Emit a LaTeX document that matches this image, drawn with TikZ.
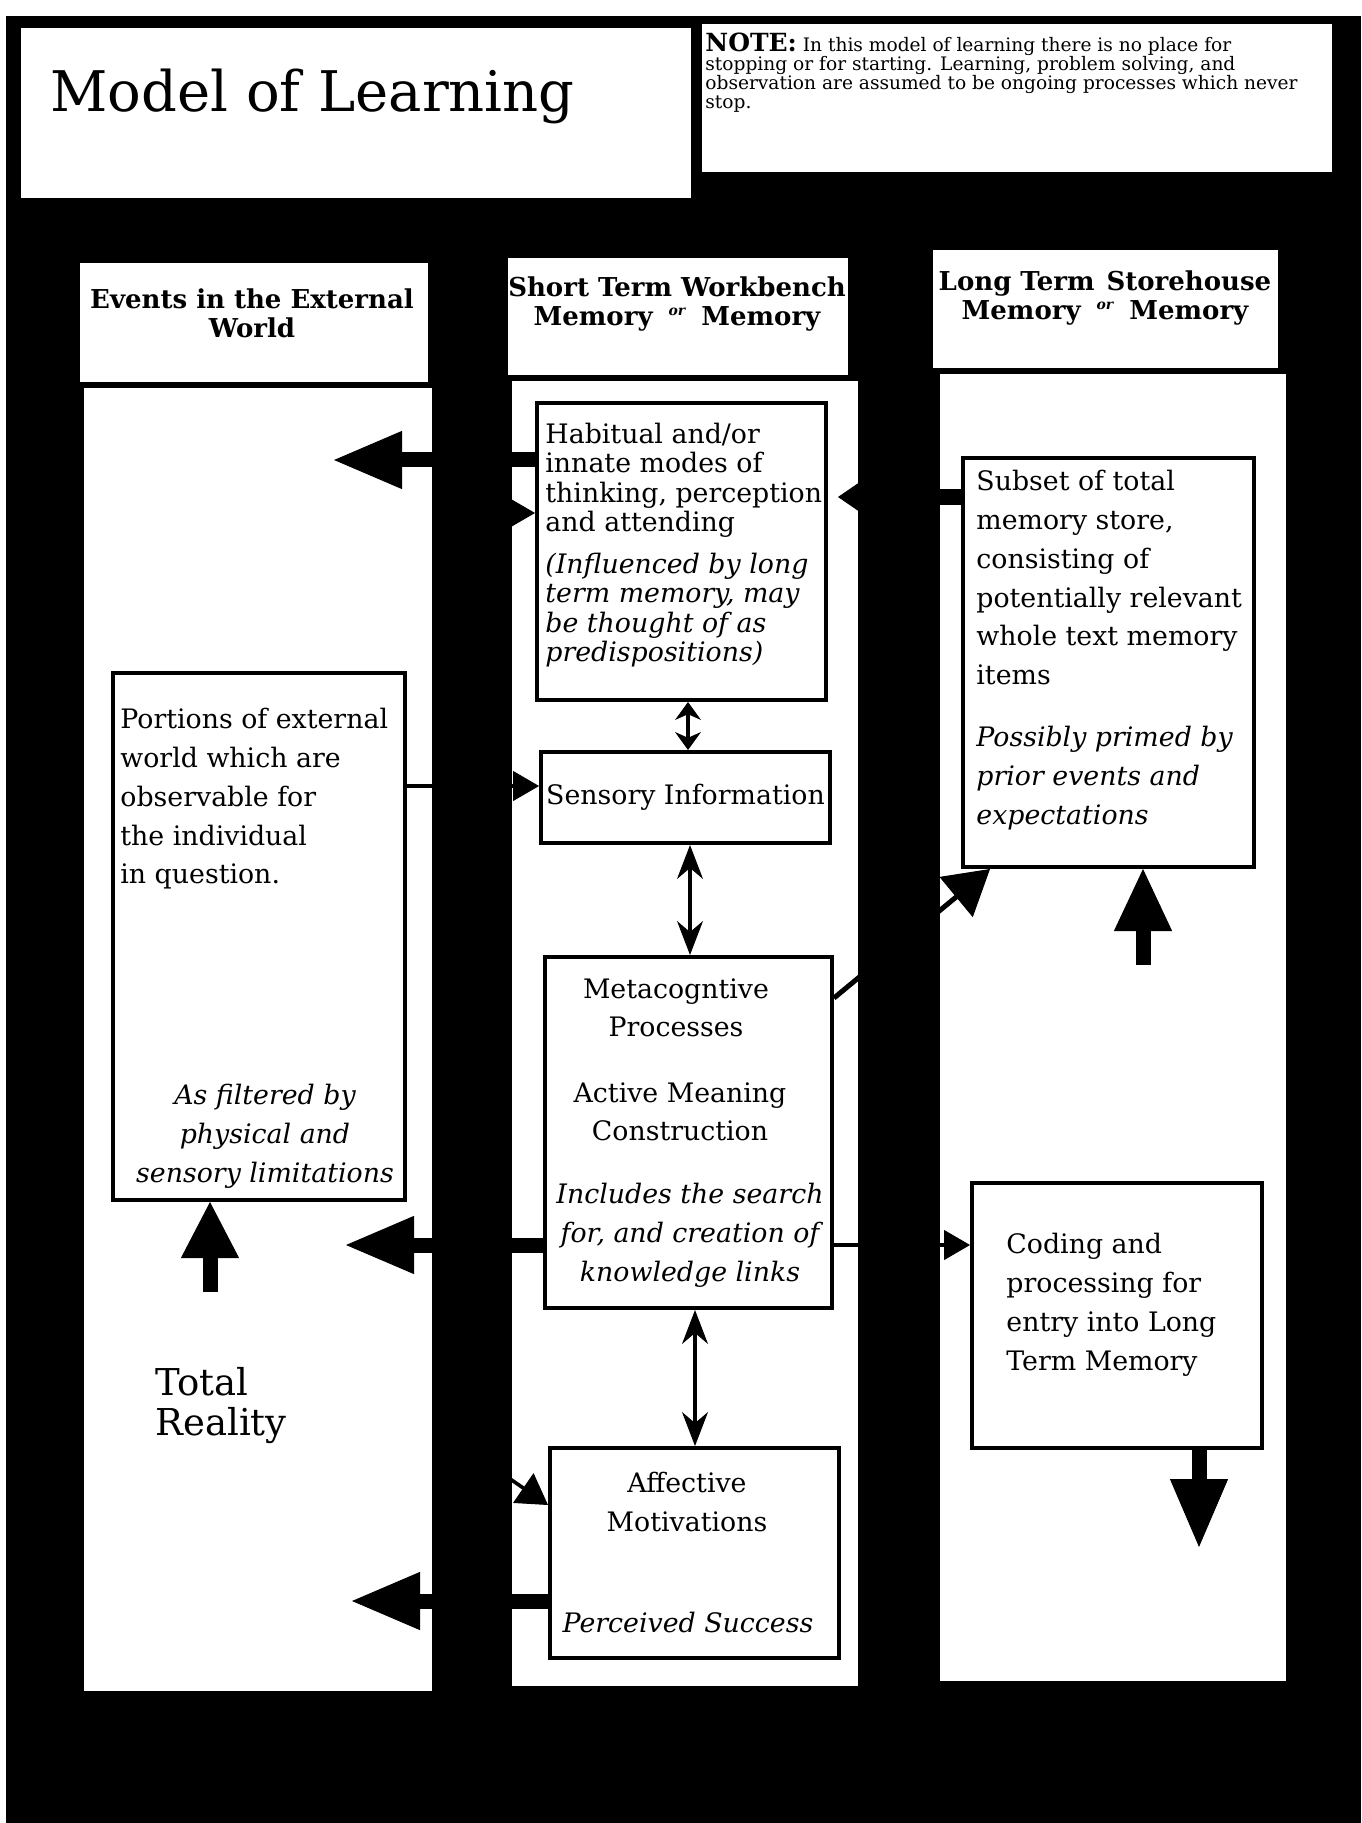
\documentclass[tikz,border=0pt]{standalone}
\usepackage{fontspec}
\setmainfont{DejaVu Serif}
\usetikzlibrary{arrows.meta}

\newcommand{\boxfont}{\fontsize{13.4}{19.4}\selectfont}
\newcommand{\tightfont}{\fontsize{13.4}{14.6}\selectfont}
\newcommand{\orword}{\raisebox{5pt}{\fontsize{7}{7}\selectfont\itshape or}}

\tikzset{
  panel/.style={fill=white},
  inbox/.style={draw, line width=2pt, fill=white, inner sep=0pt},
  txt/.style={inner sep=0pt, font=\boxfont},
  hdr/.style={inner sep=0pt, align=center, font=\fontsize{13}{14.5}\selectfont\bfseries},
  bigarrow/.style={line width=7.5pt, -{Triangle[length=#1,width=29pt,line width=0.5pt]}},
  bigarrow/.default=34pt,
  thinarrow/.style={line width=1.8pt, -{Triangle[length=13pt,width=15pt,line width=0.5pt]}},
  twoway/.style={line width=1.6pt, {Stealth[length=#1,width=13pt,line width=0.5pt]}-{Stealth[length=#1,width=13pt,line width=0.5pt]}},
  twoway/.default=17pt
}

\begin{document}
\begin{tikzpicture}[x=0.5pt,y=-0.5pt]
\useasboundingbox (0,0) rectangle (1361,1823);
\fill[white] (0,0) rectangle (1361,1823);
\fill[black] (6,16) rectangle (1361,1823);
%
  \fill[panel] (21,28) rectangle (691,198);
  \fill[panel] (702,24) rectangle (1332,172);
  \fill[panel] (80,263) rectangle (428,382);
  \fill[panel] (84,388) rectangle (432,1691);
  \fill[panel] (508,258) rectangle (848,375);
  \fill[panel] (512,381) rectangle (858,1686);
  \fill[panel] (933,250) rectangle (1278,368);
  \fill[panel] (940,374) rectangle (1286,1681);

  \node[anchor=base west, inner sep=0pt, font=\fontsize{28}{32}\selectfont] (title) at (50,112) {Model of Learning};
  \node[anchor=north west, inner sep=0pt, align=left, font=\fontsize{9.3}{9.4}\selectfont] (note) at (705,33)
     {{\fontsize{12.5}{12}\selectfont\bfseries NOTE:} In this model of learning there is no place for\\stopping or for starting. Learning, problem solving, and\\observation are assumed to be ongoing processes which never\\stop.};

  \node[hdr] (hdrEvents) at (252,313) {Events in the External\\World};
  \node[hdr] (hdrShort)  at (677,304) {Short Term Workbench\\Memory\hspace{8pt}\orword\hspace{8pt}Memory};
  \node[hdr] (hdrLong)   at (1105,298) {Long Term\hspace{6pt}Storehouse\\Memory\hspace{8pt}\orword\hspace{8pt}Memory};

  \node[inbox, minimum width=144.5pt, minimum height=148.5pt] (habit)    at (681.5,551.5) {};
  \node[inbox, minimum width=144.5pt, minimum height=45.5pt, font=\boxfont] (sensory) at (685.5,797.5) {Sensory Information};
  \node[inbox, minimum width=143.5pt, minimum height=175.5pt] (metacog)  at (688.5,1132.5) {};
  \node[inbox, minimum width=144.5pt, minimum height=105pt]   (affect)   at (694.5,1553) {};
  \node[inbox, minimum width=145.5pt, minimum height=204.5pt] (subset)   at (1108.5,662.5) {};
  \node[inbox, minimum width=145pt, minimum height=132.5pt]   (coding)   at (1117,1315.5) {};
  \node[inbox, minimum width=146pt, minimum height=263.5pt]   (portions) at (259,936.5) {};

  \node[txt, anchor=north west, align=left, font=\tightfont] (habitA) at (545,423) {Habitual and/or\\innate modes of\\thinking, perception\\and attending};
  \node[txt, anchor=north west, align=left, font=\tightfont\itshape] (habitB) at (545,553) {(Influenced by long\\term memory, may\\be thought of as\\predispositions)};
  \node[txt, anchor=north west, align=left] (subsetA) at (976,470) {Subset of total\\memory store,\\consisting of\\potentially relevant\\whole text memory\\items};
  \node[txt, anchor=north west, align=left, font=\boxfont\itshape] (subsetB) at (976,726) {Possibly primed by\\prior events and\\expectations};
  \node[txt, anchor=north west, align=left] (portionsA) at (120,708) {Portions of external\\world which are\\observable for\\the individual\\in question.};
  \node[txt, anchor=north, align=center, font=\boxfont\itshape] (portionsB) at (265,1084) {As filtered by\\physical and\\sensory limitations};
  \node[txt, anchor=north, align=center] (metacogA) at (676,978) {Metacogntive\\Processes};
  \node[txt, anchor=north, align=center] (metacogB) at (680,1082) {Active Meaning\\Construction};
  \node[txt, anchor=north, align=center, font=\boxfont\itshape] (metacogC) at (690,1183) {Includes the search\\for, and creation of\\knowledge links};
  \node[txt, anchor=north, align=center] (affectA) at (687,1472) {Affective\\Motivations};
  \node[txt, anchor=north, font=\boxfont\itshape] (affectB) at (688,1612) {Perceived Success};
  \node[txt, anchor=north west, align=left] (codingA) at (1006,1233) {Coding and\\processing for\\entry into Long\\Term Memory};
  \node[anchor=north west, inner sep=0pt, align=left, font=\fontsize{18.5}{20}\selectfont] (reality) at (155,1367) {Total\\Reality};

  \coordinate (tipA) at (334,460);
  \coordinate (tipB) at (346,1245);
  \coordinate (tipC) at (352,1601);
  \draw[bigarrow] (habit.west |- tipA) -- (tipA);
  \draw[bigarrow] (metacog.west |- tipB) -- (tipB);
  \draw[bigarrow] (affect.west |- tipC) -- (tipC);

  \coordinate (tailD) at (210,1292);
  \coordinate (tailE) at (1143,965);
  \coordinate (tipF) at (1199,1547);
  \draw[bigarrow=28pt] (tailD) -- (tailD |- portions.south);
  \draw[bigarrow=31pt] (tailE) -- (tailE |- subset.south);
  \draw[bigarrow] (tipF |- coding.south) -- (tipF);

  \coordinate (rowH) at (0,497);
  \draw[line width=8pt, -{Triangle[length=11pt,width=15pt,line width=0.5pt]}, shorten >=5pt] (subset.west |- rowH) -- (habit.east |- rowH);
  \coordinate (fromL) at (470,513);
  \draw[thinarrow] (fromL) -- (fromL -| habit.west);
  \coordinate (rowS) at (0,786);
  \draw[thinarrow] (portions.east |- rowS) -- (sensory.west |- rowS);
  \coordinate (rowM) at (0,1245);
  \draw[thinarrow] (metacog.east |- rowM) -- (coding.west |- rowM);
  \coordinate (rowU) at (0,998);
  \coordinate (colU) at (990,0);
  \draw[line width=2.5pt, -{Triangle[length=22pt,width=26pt,line width=0.5pt]}] (metacog.east |- rowU) -- (colU |- subset.south);
  \coordinate (fromA) at (500,1472);
  \coordinate (rowA) at (0,1505);
  \draw[line width=1.8pt, -{Triangle[length=15pt,width=18pt,line width=0.5pt]}] (fromA) -- (affect.west |- rowA);

  \coordinate (colV1) at (688,0);
  \coordinate (colV2) at (690,0);
  \coordinate (colV3) at (695,0);
  \draw[twoway=9pt] (colV1 |- habit.south) -- (colV1 |- sensory.north);
  \draw[twoway] (colV2 |- sensory.south) -- (colV2 |- metacog.north);
  \draw[twoway] (colV3 |- metacog.south) -- (colV3 |- affect.north);

\end{tikzpicture}
\end{document}
